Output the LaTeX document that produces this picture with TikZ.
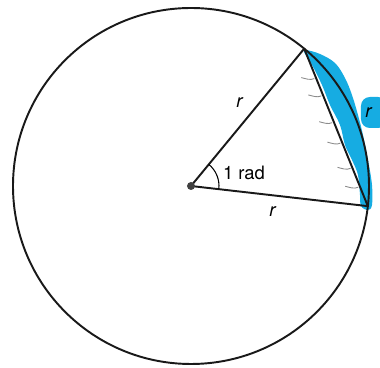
\documentclass[tikz,border=0pt]{standalone}
\usepackage{fontspec}
\setmainfont{TeX Gyre Heros}
\usetikzlibrary{calc}
\definecolor{hlblue}{RGB}{22,172,226}
\begin{document}
\begin{tikzpicture}[
  x=0.02cm, y=0.02cm,
  ln/.style={line width=1.1pt, black!90},
  hatch/.style={line width=0.5pt, black!45},
  lbl/.style={font=\fontsize{10.5}{12}\selectfont, inner sep=1pt},
  hl/.style={fill=hlblue, draw=none}
]
\useasboundingbox (-191,-182) rectangle (189,186);

%% ── Points on the circle ─────────────────────────────────────
\coordinate (O) at (0,0);
\coordinate (A) at (50.5:178);
\coordinate (B) at (-6.5:178);

%% ── Blue marker along the arc ────────────────────────────────
\fill[hl] plot[smooth cycle, tension=0.6] coordinates {
  (115,136) (129,132) (144,123) (154,108) (161,91) (167,71)
  (172,51) (177,26) (181,1) (181,-19) (177,-24) (170,-20)
  (169,-9) (167,11) (161,26) (154,41) (149,61) (139,81)
  (131,101) (121,121) (113,134)};
\fill[hl, rounded corners=5pt] (170,58) rectangle (196,89);

%% ── Circle, radii and chord ──────────────────────────────────
\draw[ln] (O) circle[radius=178];
\draw[ln] (O) -- (A);
\draw[ln] (O) -- (B);
\draw[ln] (A) -- (B);
\fill[black!75] (O) circle[radius=4];

%% ── Angle mark ───────────────────────────────────────────────
\draw[line width=0.6pt] (O) ++(-6.5:28) arc[start angle=-6.5, end angle=50.5, radius=28];

%% ── Hatch marks inside the chord ─────────────────────────────
\foreach \t in {0.19,0.30,0.47,0.60,0.76,0.88}
  \draw[hatch] ($(A)!\t!(B)+(-2,0)$) .. controls +(-4,-2) and +(4,-1) .. ++(-13,1);

%% ── Labels ───────────────────────────────────────────────────
\node[lbl] (ra)  at (49,83)  {\textit{r}};
\node[lbl] (rb)  at (82,-26) {\textit{r}};
\node[lbl] (rad) at (53,13)  {1 rad};
\node[lbl] (rc)  at (178,73) {\textit{r}};

\end{tikzpicture}
\end{document}
